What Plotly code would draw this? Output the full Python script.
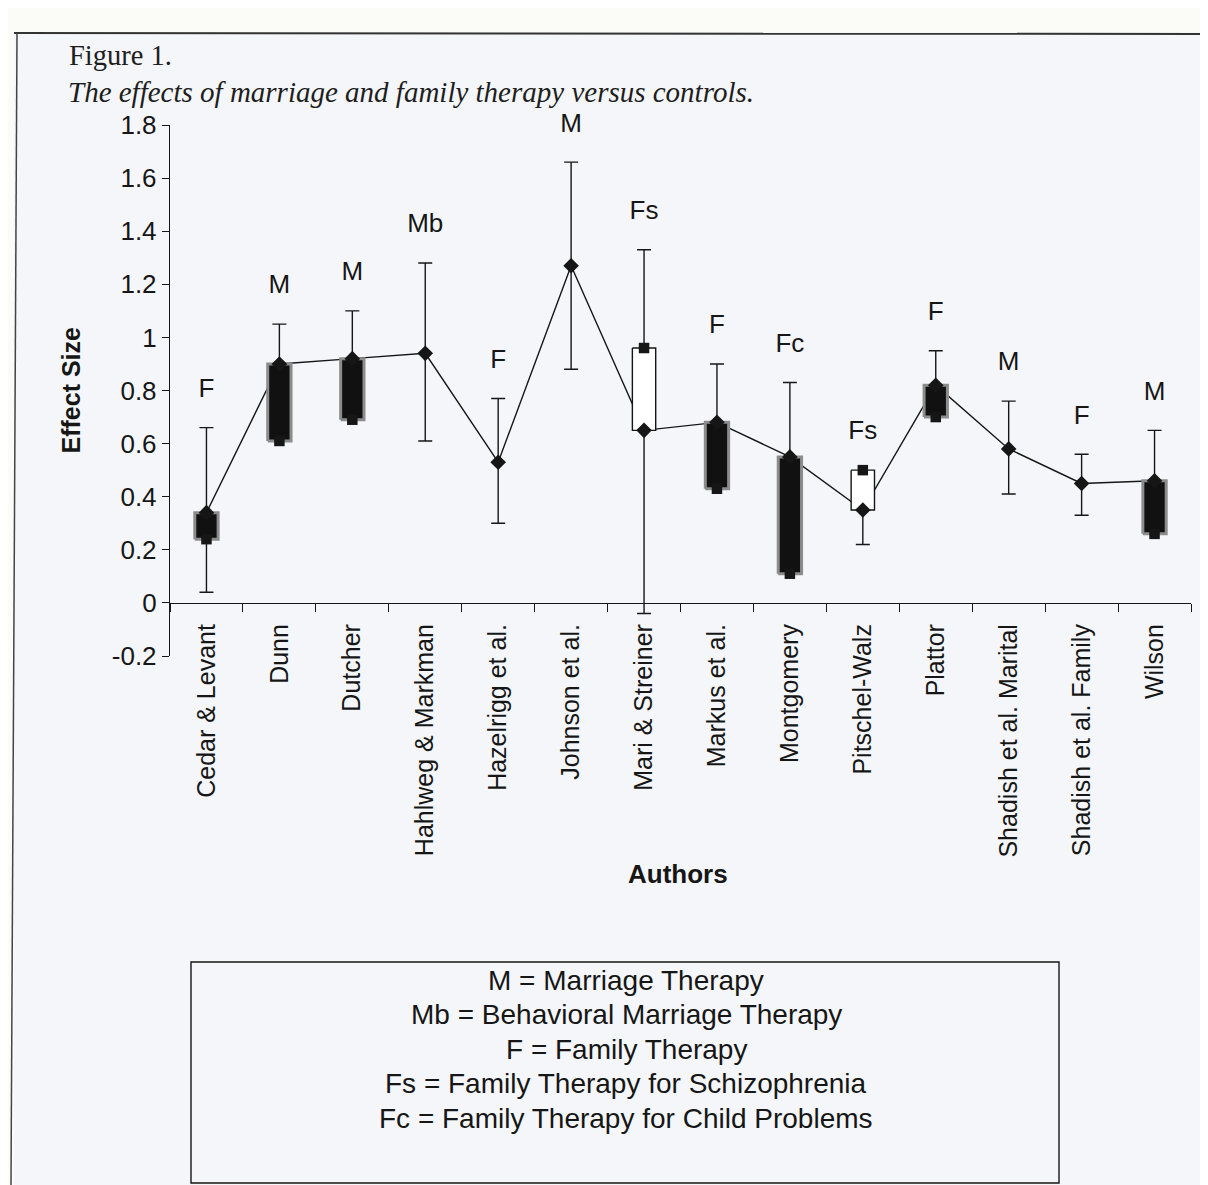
import plotly.graph_objects as go

# ---------------- data ----------------
authors = ["Cedar & Levant", "Dunn", "Dutcher", "Hahlweg & Markman", "Hazelrigg et al.",
           "Johnson et al.", "Mari & Streiner", "Markus et al.", "Montgomery", "Pitschel-Walz",
           "Plattor", "Shadish et al. Marital", "Shadish et al. Family", "Wilson"]
codes = ["F", "M", "M", "Mb", "F", "M", "Fs", "F", "Fc", "Fs", "F", "M", "F", "M"]
effect = [0.34, 0.90, 0.92, 0.94, 0.53, 1.27, 0.65, 0.68, 0.55, 0.35, 0.82, 0.58, 0.45, 0.46]
box_end = [0.24, 0.61, 0.69, None, None, None, 0.96, 0.43, 0.11, 0.50, 0.70, None, None, 0.26]
upper = [0.66, 1.05, 1.10, 1.28, 0.77, 1.66, 1.33, 0.90, 0.83, None, 0.95, 0.76, 0.56, 0.65]
lower = [0.04, None, None, 0.61, 0.30, 0.88, -0.04, None, None, 0.22, None, 0.41, 0.33, None]
y_ticks = [-0.2, 0, 0.2, 0.4, 0.6, 0.8, 1, 1.2, 1.4, 1.6, 1.8]
legend_lines = ["M = Marriage Therapy",
                "Mb = Behavioral Marriage Therapy",
                "F = Family Therapy",
                "Fs = Family Therapy for Schizophrenia",
                "Fc = Family Therapy for Child Problems"]

# ---------------- layout helpers (page pixel -> paper fraction) ----------------
W, H = 1208, 1185          # page size
OFF = 8                    # default body margin of the html page
L, R, T, B = 170, 17, 125, 529   # plot area in page pixels: x 170..1191, y 125..656
PW, PH = W - L - R, H - T - B
def px(x):
    return (x - L) / PW
def py(y):
    return (H - B - y) / PH

SANS = "Liberation Sans, Arial, Helvetica, sans-serif"
SERIF = "Liberation Serif, Times New Roman, serif"
INK = "#161616"

idx = list(range(len(authors)))
ymin, ymax = y_ticks[0], y_ticks[-1]

fig = go.Figure()

# whiskers (high-low with caps)
plus = [(u - e) if u is not None else 0 for u, e in zip(upper, effect)]
minus = [(e - l) if l is not None else 0 for l, e in zip(lower, effect)]
fig.add_trace(go.Scatter(
    x=idx, y=effect, mode="markers",
    marker=dict(size=2, color="rgba(0,0,0,0)"),
    error_y=dict(type="data", symmetric=False, array=plus, arrayminus=minus,
                 color=INK, thickness=1.4, width=7),
    hoverinfo="skip", showlegend=False))

# connecting line
fig.add_trace(go.Scatter(x=idx, y=effect, mode="lines",
                         line=dict(color=INK, width=1.4),
                         hoverinfo="skip", showlegend=False))

# up/down boxes
hw = 0.16
dx, dy, lx, ly = [], [], [], []
for i, (e, o) in enumerate(zip(effect, box_end)):
    if o is None:
        continue
    xs = [i - hw, i + hw, i + hw, i - hw, i - hw, None]
    ys = [o, o, e, e, o, None]
    if e > o:
        dx += xs; dy += ys
    else:
        lx += xs; ly += ys
fig.add_trace(go.Scatter(x=dx, y=dy, mode="lines", fill="toself",
                         fillcolor="#111111", line=dict(color="#8c8c8c", width=3),
                         hoverinfo="skip", showlegend=False))
fig.add_trace(go.Scatter(x=lx, y=ly, mode="lines", fill="toself",
                         fillcolor="#ffffff", line=dict(color=INK, width=1.4),
                         hoverinfo="skip", showlegend=False))

# diamonds (effect sizes)
fig.add_trace(go.Scatter(x=idx, y=effect, mode="markers",
                         marker=dict(symbol="diamond", size=12, color=INK),
                         hoverinfo="skip", showlegend=False))

# squares (other end of the box)
sq_x = [i for i, o in zip(idx, box_end) if o is not None]
sq_y = [o for o in box_end if o is not None]
fig.add_trace(go.Scatter(x=sq_x, y=sq_y, mode="markers",
                         marker=dict(symbol="square", size=10.5, color=INK),
                         hoverinfo="skip", showlegend=False))

# therapy-type labels above each study
tops = [max(v for v in (u, e, o) if v is not None) for u, e, o in zip(upper, effect, box_end)]
fig.add_trace(go.Scatter(x=idx, y=[t + 0.14 for t in tops], mode="text", text=codes,
                         textposition="middle center", cliponaxis=False,
                         textfont=dict(family=SANS, size=26, color=INK),
                         hoverinfo="skip", showlegend=False))

# ---------------- axes ----------------
fig.update_xaxes(
    range=[-0.5, len(authors) - 0.5],
    tickmode="array", tickvals=idx, ticktext=authors, tickangle=-90,
    ticks="outside", ticklen=10, tickcolor="rgba(0,0,0,0)",
    tickfont=dict(family=SANS, size=25, color=INK),
    showline=True, linecolor=INK, linewidth=1.4,
    showgrid=False, zeroline=False,
    anchor="free", position=(0 - ymin) / (ymax - ymin),
    minor=dict(tickmode="array", tickvals=[i - 0.5 for i in range(len(authors) + 1)],
               ticks="outside", ticklen=8, tickcolor=INK, tickwidth=1.3, showgrid=False),
)
fig.update_yaxes(
    range=[ymin, ymax],
    tickmode="array", tickvals=y_ticks, ticktext=[f"{v:g}" for v in y_ticks],
    ticks="outside", ticklen=7, tickcolor=INK, tickwidth=1.3,
    tickfont=dict(family=SANS, size=26, color=INK),
    showline=True, linecolor=INK, linewidth=1.4,
    showgrid=False, zeroline=False,
)

# ---------------- decorations ----------------
shapes = [
    # scanned page strip above / left of the border
    dict(type="rect", xref="paper", yref="paper", x0=px(0), x1=px(W), y0=py(0), y1=py(32),
         fillcolor="#fbfbf7", line=dict(width=0), layer="below"),
    dict(type="rect", xref="paper", yref="paper", x0=px(0), x1=px(14), y0=py(0), y1=py(H),
         fillcolor="#fbfbf7", line=dict(width=0), layer="below"),
    # page border
    dict(type="line", xref="paper", yref="paper", x0=px(14), x1=px(1204), y0=py(33), y1=py(34),
         line=dict(color="#333333", width=2)),
    dict(type="line", xref="paper", yref="paper", x0=px(17), x1=px(11), y0=py(33), y1=py(H),
         line=dict(color="#444444", width=1.5)),
    dict(type="line", xref="paper", yref="paper", x0=px(1204), x1=px(1202), y0=py(34), y1=py(H),
         line=dict(color="#555555", width=2.5)),
    # legend box
    dict(type="rect", xref="paper", yref="paper", x0=px(191), x1=px(1059), y0=py(1183), y1=py(962),
         line=dict(color=INK, width=1.4), fillcolor="rgba(0,0,0,0)"),
]

annotations = [
    dict(text="Figure 1.", x=px(67), y=py(56), xref="paper", yref="paper",
         xanchor="left", yanchor="middle", showarrow=False,
         font=dict(family=SERIF, size=28.5, color="#1e1e1e")),
    dict(text="<i>The effects of marriage and family therapy versus controls.</i>",
         x=px(66), y=py(92), xref="paper", yref="paper",
         xanchor="left", yanchor="middle", showarrow=False,
         font=dict(family=SERIF, size=29, color="#1e1e1e")),
    dict(text="<b>Effect Size</b>", x=px(70), y=0.5, xref="paper", yref="paper",
         textangle=-90, xanchor="center", yanchor="middle", showarrow=False,
         font=dict(family=SANS, size=25, color=INK)),
    dict(text="<b>Authors</b>", x=px(678), y=py(874), xref="paper", yref="paper",
         xanchor="center", yanchor="middle", showarrow=False,
         font=dict(family=SANS, size=26, color=INK)),
]
for k, line in enumerate(legend_lines):
    annotations.append(dict(text=line, x=px(626), y=py(980 + 34.5 * k), xref="paper", yref="paper",
                            xanchor="center", yanchor="middle", showarrow=False,
                            font=dict(family=SANS, size=28, color=INK)))

fig.update_layout(
    width=W - OFF, height=H - OFF,
    margin=dict(l=L - OFF, r=R, t=T - OFF, b=B, pad=0),
    paper_bgcolor="#f5f6fa", plot_bgcolor="rgba(0,0,0,0)",
    showlegend=False, shapes=shapes, annotations=annotations,
)

fig.write_html("out.html")
